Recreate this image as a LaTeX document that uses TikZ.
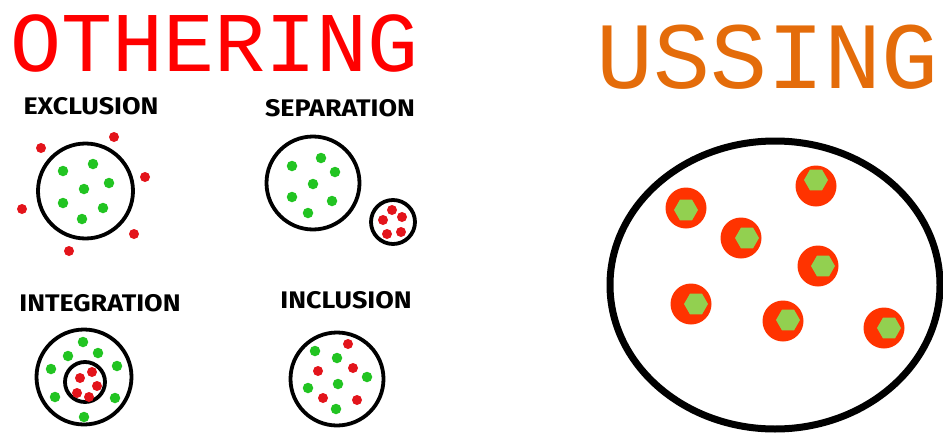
\documentclass[tikz,border=0pt]{standalone}
\usepackage{fontspec}
\setmainfont{Liberation Sans}
\newfontfamily\titlefont{Liberation Mono}
\newfontfamily\markerfont{Fira Sans}
\usetikzlibrary{shapes, positioning}

\definecolor{otherred}{HTML}{FF0000}
\definecolor{ussorange}{HTML}{E46C0A}
\definecolor{dotgreen}{HTML}{22C422}
\definecolor{dotred}{HTML}{E3141B}
\definecolor{discred}{HTML}{FF3300}
\definecolor{hexgreen}{HTML}{92D050}

\tikzset{
    ring/.style={draw=black, line width=3.8pt, circle, inner sep=0pt},
    gdot/.style={circle, fill=dotgreen, inner sep=0pt, minimum size=10.5pt},
    rdot/.style={circle, fill=dotred, inner sep=0pt, minimum size=10pt},
    heading/.style={font=\markerfont\bfseries\fontsize{24}{24}\selectfont, inner sep=0pt, xscale=1.12},
    disc/.style={circle, fill=discred, inner sep=0pt, minimum size=41pt},
    hexa/.style={regular polygon, regular polygon sides=6, fill=hexgreen, inner sep=0pt, minimum size=24pt}
}

\begin{document}
\begin{tikzpicture}[x=1pt, y=-1pt]

    \useasboundingbox (0,0) rectangle (943,434);

    % titles
    \node[inner sep=0pt, text=otherred, font=\titlefont\fontsize{85}{85}\selectfont] (othering) at (215,43) {OTHERING};
    \node[inner sep=0pt, text=ussorange, font=\titlefont\fontsize{95}{95}\selectfont] (ussing) at (768,57.5) {USSING};

    % headings
    \node[heading] (hexcl) at (91,106) {EXCLUSION};
    \node[heading] (hsep) at (340,108) {SEPARATION};
    \node[heading] (hint) at (100,303) {INTEGRATION};
    \node[heading] (hincl) at (346,300) {INCLUSION};

    % exclusion
    \node[ring, minimum size=95pt] (exring) at (85.5,191) {};
    \foreach \x/\y [count=\i] in {63/171, 93/164, 109/183, 84/189, 63/203, 103/208, 82/219}
        \node[gdot] (exg\i) at (\x,\y) {};
    \foreach \x/\y [count=\i] in {41/148, 114/137, 145/177, 22/209, 134/234, 69/251}
        \node[rdot] (exr\i) at (\x,\y) {};

    % separation
    \node[ring, minimum size=93pt] (sepbig) at (313,183) {};
    \node[ring, minimum size=44pt] (sepsmall) at (393,222) {};
    \foreach \x/\y [count=\i] in {292/166, 321/158, 335/172, 313/184, 292/197, 332/201, 308/213}
        \node[gdot] (sepg\i) at (\x,\y) {};
    \foreach \x/\y [count=\i] in {392/210, 383/220, 402/217, 387/234, 401/232}
        \node[rdot] (sepr\i) at (\x,\y) {};

    % integration
    \node[ring, minimum size=95pt] (intouter) at (84,377) {};
    \node[ring, minimum size=40pt] (intinner) at (85,382) {};
    \foreach \x/\y [count=\i] in {83/342, 68/356, 98/353, 51/369, 117/366, 55/397, 115/398, 84/417}
        \node[gdot] (intg\i) at (\x,\y) {};
    \foreach \x/\y [count=\i] in {92/372, 80/378, 97/386, 77/393, 89/397}
        \node[rdot] (intr\i) at (\x,\y) {};

    % inclusion
    \node[ring, minimum size=93pt] (inclring) at (337,379) {};
    \foreach \x/\y [count=\i] in {315/351, 337/358, 367/377, 308/388, 338/384, 336/409}
        \node[gdot] (inclg\i) at (\x,\y) {};
    \foreach \x/\y [count=\i] in {348/344, 318/371, 353/368, 323/398, 357/400}
        \node[rdot] (inclr\i) at (\x,\y) {};

    % ussing
    \node[draw=black, line width=7pt, ellipse, inner sep=0pt, minimum width=330pt, minimum height=288pt] (usring) at (775,285) {};
    \foreach \x/\y/\hx/\hy [count=\i] in {686/208/686/210, 816/186/816/180, 741/238/747/238, 818/266/823/266,
                                         691/304/696/304, 783/321/788/320, 884/328/889/328}{
        \node[disc] (usd\i) at (\x,\y) {};
        \node[hexa] (ush\i) at (\hx,\hy) {};
    }

\end{tikzpicture}
\end{document}
